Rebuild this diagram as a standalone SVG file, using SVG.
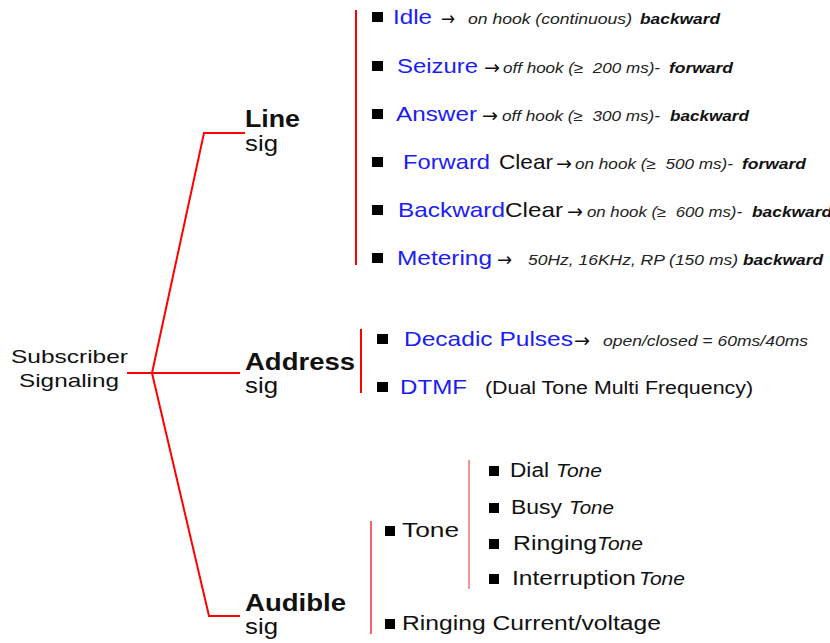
<svg xmlns="http://www.w3.org/2000/svg" width="830" height="643" viewBox="0 0 830 643">
  <style>
    text { font-family: "Liberation Sans", "DejaVu Sans", Arial, sans-serif; fill: #111; white-space: pre; }
    .root { font-size: 19px; }
    .head { font-size: 23px; font-weight: bold; }
    .sig { font-size: 22px; }
    .item { font-size: 21px; }
    .blue { fill: #1c1cf5; }
    .note { font-size: 14.5px; font-style: italic; fill: #222; }
    .dir { font-size: 14.5px; font-style: italic; font-weight: bold; }
    .arrow { font-family: "DejaVu Sans", sans-serif; font-size: 19px; }
    .sub { font-size: 20px; }
    .subi { font-size: 18px; font-style: italic; }
    .wire { fill: none; stroke: #ff0000; stroke-width: 2; }
    .wire-thin { fill: none; stroke: #f03030; stroke-width: 1.5; }
    .wire-hair { fill: none; stroke: #f05050; stroke-width: 1.2; }
    .bullet { fill: #000; }
  </style>

  <!-- tree connectors -->
  <g id="connectors">
    <path class="wire" d="M127 373 H240"/>
    <path class="wire" d="M152 373 L204 133 H245"/>
    <path class="wire" d="M152 373 L209 616 H240"/>
    <path class="wire" d="M356 10 V265"/>
    <path class="wire" d="M361 329 V393"/>
    <path class="wire-thin" d="M371 521 V634"/>
    <path class="wire-hair" d="M469 460 V589"/>
  </g>

  <!-- root -->
  <g id="subscriber-signaling">
    <text class="root" x="11" y="363" textLength="117" lengthAdjust="spacingAndGlyphs">Subscriber</text>
    <text class="root" x="19" y="387" textLength="100" lengthAdjust="spacingAndGlyphs">Signaling</text>
  </g>

  <!-- branch headings -->
  <g id="line-sig">
    <text class="head" x="245" y="127" textLength="55" lengthAdjust="spacingAndGlyphs">Line</text>
    <text class="sig" x="245" y="151" textLength="33" lengthAdjust="spacingAndGlyphs">sig</text>
  </g>
  <g id="address-sig">
    <text class="head" x="245" y="370" textLength="110" lengthAdjust="spacingAndGlyphs">Address</text>
    <text class="sig" x="245" y="393" textLength="33" lengthAdjust="spacingAndGlyphs">sig</text>
  </g>
  <g id="audible-sig">
    <text class="head" x="245" y="611" textLength="101" lengthAdjust="spacingAndGlyphs">Audible</text>
    <text class="sig" x="245" y="634" textLength="33" lengthAdjust="spacingAndGlyphs">sig</text>
  </g>

  <!-- line signals -->
  <g id="idle">
    <rect class="bullet" x="372" y="12" width="11" height="10"/>
    <text class="item blue" x="393" y="24" textLength="39" lengthAdjust="spacingAndGlyphs">Idle</text>
    <text class="arrow" x="441" y="25" textLength="14" lengthAdjust="spacingAndGlyphs">→</text>
    <text class="note" x="468" y="24" textLength="164" lengthAdjust="spacingAndGlyphs">on hook (continuous)</text>
    <text class="dir" x="640" y="24" textLength="80" lengthAdjust="spacingAndGlyphs">backward</text>
  </g>
  <g id="seizure">
    <rect class="bullet" x="372" y="61" width="11" height="10"/>
    <text class="item blue" x="397" y="73" textLength="81" lengthAdjust="spacingAndGlyphs">Seizure</text>
    <text class="arrow" x="484" y="74" textLength="16" lengthAdjust="spacingAndGlyphs">→</text>
    <text class="note" x="503" y="73" textLength="157" lengthAdjust="spacingAndGlyphs">off hook (≥  200 ms)-</text>
    <text class="dir" x="669" y="73" textLength="64" lengthAdjust="spacingAndGlyphs">forward</text>
  </g>
  <g id="answer">
    <rect class="bullet" x="372" y="109" width="11" height="10"/>
    <text class="item blue" x="396" y="121" textLength="81" lengthAdjust="spacingAndGlyphs">Answer</text>
    <text class="arrow" x="482" y="122" textLength="16" lengthAdjust="spacingAndGlyphs">→</text>
    <text class="note" x="502" y="121" textLength="158" lengthAdjust="spacingAndGlyphs">off hook (≥  300 ms)-</text>
    <text class="dir" x="670" y="121" textLength="79" lengthAdjust="spacingAndGlyphs">backward</text>
  </g>
  <g id="forward-clear">
    <rect class="bullet" x="372" y="157" width="11" height="10"/>
    <text class="item blue" x="403" y="169" textLength="87" lengthAdjust="spacingAndGlyphs">Forward</text>
    <text class="item" x="499" y="169" textLength="54" lengthAdjust="spacingAndGlyphs">Clear</text>
    <text class="arrow" x="556" y="170" textLength="16" lengthAdjust="spacingAndGlyphs">→</text>
    <text class="note" x="575" y="169" textLength="158" lengthAdjust="spacingAndGlyphs">on hook (≥  500 ms)-</text>
    <text class="dir" x="742" y="169" textLength="64" lengthAdjust="spacingAndGlyphs">forward</text>
  </g>
  <g id="backward-clear">
    <rect class="bullet" x="372" y="205" width="11" height="10"/>
    <text class="item blue" x="398" y="217" textLength="107" lengthAdjust="spacingAndGlyphs">Backward</text>
    <text class="item" x="505" y="217" textLength="58" lengthAdjust="spacingAndGlyphs">Clear</text>
    <text class="arrow" x="567" y="218" textLength="16" lengthAdjust="spacingAndGlyphs">→</text>
    <text class="note" x="587" y="217" textLength="155" lengthAdjust="spacingAndGlyphs">on hook (≥  600 ms)-</text>
    <text class="dir" x="752" y="217" textLength="80" lengthAdjust="spacingAndGlyphs">backward</text>
  </g>
  <g id="metering">
    <rect class="bullet" x="372" y="253" width="11" height="10"/>
    <text class="item blue" x="397" y="265" textLength="95" lengthAdjust="spacingAndGlyphs">Metering</text>
    <text class="arrow" x="497" y="266" textLength="15" lengthAdjust="spacingAndGlyphs">→</text>
    <text class="note" x="528" y="265" textLength="210" lengthAdjust="spacingAndGlyphs">50Hz, 16KHz, RP (150 ms)</text>
    <text class="dir" x="743" y="265" textLength="80" lengthAdjust="spacingAndGlyphs">backward</text>
  </g>

  <!-- address signals -->
  <g id="decadic-pulses">
    <rect class="bullet" x="377" y="334" width="11" height="10"/>
    <text class="item blue" x="404" y="346" textLength="169" lengthAdjust="spacingAndGlyphs">Decadic Pulses</text>
    <text class="arrow" x="574" y="347" textLength="16" lengthAdjust="spacingAndGlyphs">→</text>
    <text class="note" x="603" y="346" textLength="205" lengthAdjust="spacingAndGlyphs">open/closed = 60ms/40ms</text>
  </g>
  <g id="dtmf">
    <rect class="bullet" x="377" y="382" width="11" height="10"/>
    <text class="item blue" x="400" y="394" textLength="67" lengthAdjust="spacingAndGlyphs">DTMF</text>
    <text class="sub" x="485" y="394" style="font-size:17.5px" textLength="268" lengthAdjust="spacingAndGlyphs">(Dual Tone Multi Frequency)</text>
  </g>

  <!-- audible signals -->
  <g id="tone">
    <rect class="bullet" x="385" y="526" width="10" height="10"/>
    <text class="sub" x="402" y="537" textLength="57" lengthAdjust="spacingAndGlyphs">Tone</text>
  </g>
  <g id="dial-tone">
    <rect class="bullet" x="489" y="466" width="10" height="10"/>
    <text class="sub" x="510" y="477" textLength="39" lengthAdjust="spacingAndGlyphs">Dial</text>
    <text class="subi" x="556" y="477" textLength="46" lengthAdjust="spacingAndGlyphs">Tone</text>
  </g>
  <g id="busy-tone">
    <rect class="bullet" x="489" y="503" width="10" height="10"/>
    <text class="sub" x="511" y="514" textLength="51" lengthAdjust="spacingAndGlyphs">Busy</text>
    <text class="subi" x="569" y="514" textLength="45" lengthAdjust="spacingAndGlyphs">Tone</text>
  </g>
  <g id="ringing-tone">
    <rect class="bullet" x="489" y="539" width="10" height="10"/>
    <text class="sub" x="513" y="550" textLength="84" lengthAdjust="spacingAndGlyphs">Ringing</text>
    <text class="subi" x="597" y="550" textLength="46" lengthAdjust="spacingAndGlyphs">Tone</text>
  </g>
  <g id="interruption-tone">
    <rect class="bullet" x="489" y="574" width="10" height="10"/>
    <text class="sub" x="512" y="585" textLength="124" lengthAdjust="spacingAndGlyphs">Interruption</text>
    <text class="subi" x="639" y="585" textLength="46" lengthAdjust="spacingAndGlyphs">Tone</text>
  </g>
  <g id="ringing-current">
    <rect class="bullet" x="385" y="619" width="10" height="10"/>
    <text class="sub" x="402" y="630" textLength="259" lengthAdjust="spacingAndGlyphs">Ringing Current/voltage</text>
  </g>
</svg>
